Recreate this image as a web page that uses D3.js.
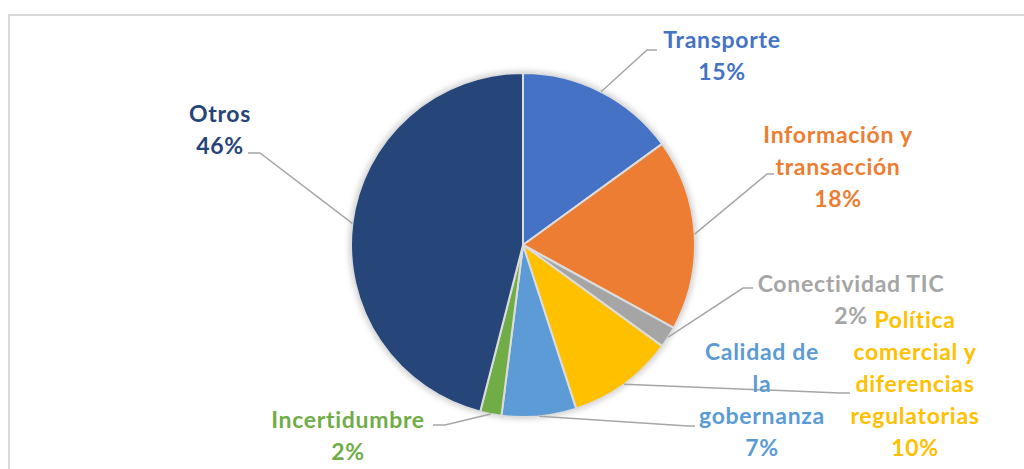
<!DOCTYPE html>
<html>
<head>
<meta charset="utf-8">
<script src="https://cdn.jsdelivr.net/npm/d3@7"></script>
<style>
  html, body { margin: 0; padding: 0; background: #fff; }
  text { font-family: Lato, "Open Sans", sans-serif; font-weight: bold; }
</style>
</head>
<body>
<div id="chart"></div>
<script>
const categories = ["Transporte", "Información y transacción", "Conectividad TIC",
  "Política comercial y diferencias regulatorias", "Calidad de la gobernanza",
  "Incertidumbre", "Otros"];
const values = [0.15, 0.18, 0.02, 0.10, 0.07, 0.02, 0.46];
const colors = ["#4472C4", "#ED7D31", "#A5A5A5", "#FFC000", "#5B9BD5", "#70AD47", "#264478"];
// how the label text is broken into lines
const labelLines = [
  ["Transporte"],
  ["Información y", "transacción"],
  ["Conectividad TIC"],
  ["Política", "comercial y", "diferencias", "regulatorias"],
  ["Calidad de", "la", "gobernanza"],
  ["Incertidumbre"],
  ["Otros"]
];

// layout of labels (center x, first baseline) and leader line elbows
const labelPos = [[722, 48], [838, 143], [851, 292], [915, 328], [762, 360], [348, 428], [220, 122]];
const leaderPts = [
  [[647, 50], [657, 50]],
  [[767, 174], [774, 174]],
  [[743, 288], [753, 288]],
  [[840, 393], [850, 393]],
  [[688, 426], [695, 426]],
  [[445, 425], [433, 425]],
  [[260, 153], [248, 153]]
];

const width = 1024, height = 469;
const cx = 523, cy = 245, radius = 172;
const lineH = 32;

const data = categories.map((c, i) => ({ name: c, value: values[i], color: colors[i], i }));

const svg = d3.select("#chart").append("svg")
  .attr("width", width)
  .attr("height", height);

const defs = svg.append("defs");
const shadow = defs.append("filter").attr("id", "shadow")
  .attr("x", "-20%").attr("y", "-20%").attr("width", "140%").attr("height", "140%");
shadow.append("feDropShadow")
  .attr("dx", 0).attr("dy", 0).attr("stdDeviation", 3)
  .attr("flood-color", "#000").attr("flood-opacity", 0.25);

// frame
svg.append("rect")
  .attr("x", 9).attr("y", 15)
  .attr("width", 1030).attr("height", 480)
  .attr("fill", "none")
  .attr("stroke", "#d9d9d9")
  .attr("stroke-width", 2);

const pie = d3.pie().sort(null).value(d => d.value);
const arcs = pie(data);

const arc = d3.arc().innerRadius(0).outerRadius(radius);
const edgeArc = d3.arc().innerRadius(radius).outerRadius(radius);

const g = svg.append("g").attr("transform", `translate(${cx},${cy})`);

g.append("g").attr("filter", "url(#shadow)")
  .selectAll("path")
  .data(arcs)
  .enter()
  .append("path")
    .attr("d", arc)
    .attr("fill", d => d.data.color)
    .attr("stroke", "#dcdcdc")
    .attr("stroke-width", 2)
    .attr("stroke-linejoin", "round");

// leader lines
svg.append("g")
  .selectAll("polyline")
  .data(arcs)
  .enter()
  .append("polyline")
    .attr("points", d => {
      const [ex, ey] = edgeArc.centroid(d);
      const pts = [[cx + ex, cy + ey]].concat(leaderPts[d.data.i]);
      return pts.map(p => p.join(",")).join(" ");
    })
    .attr("fill", "none")
    .attr("stroke", "#a6a6a6")
    .attr("stroke-width", 1.5);

// labels
const fmt = d3.format(".0%");
const labels = svg.append("g")
  .selectAll("text")
  .data(data)
  .enter()
  .append("text")
    .attr("text-anchor", "middle")
    .attr("font-size", 23)
    .attr("letter-spacing", 0.7)
    .attr("fill", d => d.color);

labels.selectAll("tspan")
  .data(d => labelLines[d.i].concat([fmt(d.value)]).map((t, k) => ({ t, k, i: d.i })))
  .enter()
  .append("tspan")
    .attr("x", d => labelPos[d.i][0])
    .attr("y", d => labelPos[d.i][1] + d.k * lineH)
    .text(d => d.t);
</script>
</body>
</html>
